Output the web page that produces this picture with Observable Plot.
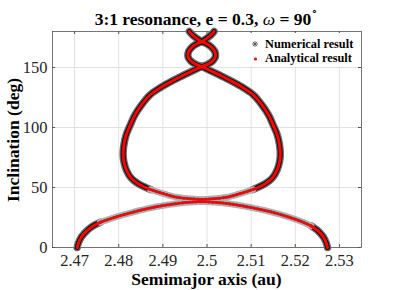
<!DOCTYPE html>
<html><head><meta charset="utf-8">
<script src="https://cdn.jsdelivr.net/npm/d3@7"></script>
<script src="https://cdn.jsdelivr.net/npm/@observablehq/plot@0.6"></script>
<style>
body{margin:0;background:#fff;}
#wrap{position:relative;width:399px;height:290px;font-family:"Liberation Serif","Times New Roman",serif;color:#000;}
#wrap svg{position:absolute;left:0;top:0;}
.abs{position:absolute;white-space:nowrap;line-height:1;}
#title{left:52px;width:309px;top:9px;text-align:center;font-weight:bold;font-size:17.5px;}
#title sup{font-size:11px;font-weight:normal;position:relative;top:-3px;}
#xlabel{left:52px;width:309px;top:271px;text-align:center;font-weight:bold;font-size:17.5px;}
#ylabel{left:14px;top:140px;transform:translate(-50%,-50%) rotate(-90deg);font-weight:bold;font-size:17.5px;}
#legend{left:247px;top:33px;width:113px;height:33px;background:#fff;}
.leg{font-weight:bold;font-size:12.3px;position:absolute;left:18px;}
</style></head>
<body>
<div id="wrap">
  <div id="chart"></div>
  <div id="title" class="abs">3:1 resonance, e = 0.3, <i style="font-weight:normal">ω</i> = 90<sup>∘</sup></div>
  <div id="xlabel" class="abs">Semimajor axis (au)</div>
  <div id="ylabel" class="abs">Inclination (deg)</div>
  <div id="legend" class="abs">
    <svg width="14" height="30" style="position:absolute;left:2px;top:4px;overflow:visible">
      <g stroke="#555" stroke-width="0.9" transform="translate(6,7)">
        <line x1="-3" y1="0" x2="3" y2="0"/><line x1="0" y1="-3" x2="0" y2="3"/>
        <line x1="-2.2" y1="-2.2" x2="2.2" y2="2.2"/><line x1="-2.2" y1="2.2" x2="2.2" y2="-2.2"/>
      </g>
      <circle cx="6.5" cy="22" r="1.6" fill="#ff0000"/>
    </svg>
    <span class="leg" style="top:5px">Numerical result</span>
    <span class="leg" style="top:19px">Analytical result</span>
  </div>
</div>
<script>
// axis ticks
const xTicks = [2.47, 2.48, 2.49, 2.5, 2.51, 2.52, 2.53];
const xTickLabels = ["2.47", "2.48", "2.49", "2.5", "2.51", "2.52", "2.53"];
const yTicks = [0, 50, 100, 150];
const yTickLabels = ["0", "50", "100", "150"];

// separatrix branches: semimajor axis (au) and inclination (deg)
// lower left branch (steep part, dense markers)
const lowLeftSteepA = [2.4706, 2.4709, 2.4716, 2.4728, 2.4742, 2.4758];
const lowLeftSteepI = [0, 4, 9, 14, 18, 21];
// lower left branch (flat part, sparse markers)
const lowLeftFlatA = [2.4758, 2.4790, 2.4830, 2.4870, 2.4910, 2.4950, 2.4988];
const lowLeftFlatI = [21, 25, 29.2, 32.8, 35.5, 37.4, 38.2];
// lower right branch
const lowRightSteepA = [2.5273, 2.5270, 2.5263, 2.5251, 2.5236];
const lowRightSteepI = [0, 4, 9, 14, 18];
const lowRightFlatA = [2.5236, 2.5215, 2.5188, 2.5152, 2.5112, 2.5070, 2.5030, 2.4988];
const lowRightFlatI = [18, 21.5, 25, 29, 32.4, 35.3, 37.3, 38.2];
// big lobe, bottom (sparse) parts
const lobeLeftBotA = [2.4988, 2.4962, 2.4930, 2.4900, 2.4872];
const lobeRightBotA = [2.4988, 2.5014, 2.5046, 2.5076, 2.5104];
const lobeBotI = [40, 40.6, 42, 45, 48.3];
// big lobe, main (dense) parts
const lobeLeftA = [2.4872, 2.4845, 2.4828, 2.4818, 2.4812, 2.4810, 2.4812, 2.4817, 2.4826, 2.4836, 2.4852, 2.4872, 2.4900, 2.4925, 2.4948, 2.4972, 2.4988];
const lobeRightA = [2.5104, 2.5131, 2.5148, 2.5158, 2.5164, 2.5166, 2.5164, 2.5159, 2.5150, 2.5140, 2.5124, 2.5104, 2.5076, 2.5051, 2.5028, 2.5004, 2.4988];
const lobeI = [48.3, 53, 58, 64, 71, 78, 86, 94, 102, 110, 119, 127.5, 134.5, 139.5, 143.8, 148, 150.8];
// small loop near the top
const loopLeftA = [2.4988, 2.4975, 2.4963, 2.4957, 2.4958, 2.4966, 2.4978, 2.4988];
const loopRightA = [2.4988, 2.5001, 2.5013, 2.5019, 2.5018, 2.5010, 2.4998, 2.4988];
const loopI = [150.8, 152.6, 155.5, 159, 163, 167, 170, 171.5];
// tails running to the top edge
const tailLeftA = [2.4988, 2.4976, 2.4966, 2.4960];
const tailRightA = [2.4988, 2.5000, 2.5010, 2.5016];
const tailI = [171.5, 174.5, 177.5, 180];

function rows(name, A, I) { return A.map((a, k) => ({curve: name, a, i: I[k]})); }
const dense = [
  ...rows("llS", lowLeftSteepA, lowLeftSteepI),
  ...rows("lrS", lowRightSteepA, lowRightSteepI),
  ...rows("lobeL", lobeLeftA, lobeI),
  ...rows("lobeR", lobeRightA, lobeI),
  ...rows("loopL", loopLeftA, loopI),
  ...rows("loopR", loopRightA, loopI),
  ...rows("tailL", tailLeftA, tailI),
  ...rows("tailR", tailRightA, tailI)
];
const sparse = [
  ...rows("llF", lowLeftFlatA, lowLeftFlatI),
  ...rows("lrF", lowRightFlatA, lowRightFlatI),
  ...rows("lbL", lobeLeftBotA, lobeBotI),
  ...rows("lbR", lobeRightBotA, lobeBotI)
];

const W = 399, H = 290, mL = 52, mR = 38, mT = 31, mB = 43;
const pH = H - mT - mB, pW = W - mL - mR;
const enc = {x: "a", y: "i", z: "curve", curve: "catmull-rom"};

const chart = Plot.plot({
  width: W, height: H,
  marginLeft: mL, marginRight: mR, marginTop: mT, marginBottom: mB,
  style: {fontFamily: "'Liberation Serif','Times New Roman',serif", background: "transparent", overflow: "visible"},
  x: {domain: [2.465, 2.535]},
  y: {domain: [0, 180]},
  marks: [
    Plot.gridX(xTicks, {stroke: "#e2e2e2", strokeOpacity: 1, strokeWidth: 1}),
    Plot.gridY(yTicks, {stroke: "#e2e2e2", strokeOpacity: 1, strokeWidth: 1}),
    // inward ticks on all four sides
    Plot.ruleX(xTicks, {stroke: "#555", insetTop: pH - 3}),
    Plot.ruleX(xTicks, {stroke: "#555", insetBottom: pH - 3}),
    Plot.ruleY(yTicks, {stroke: "#555", insetLeft: pW - 3}),
    Plot.ruleY(yTicks, {stroke: "#555", insetRight: pW - 3}),
    Plot.frame({stroke: "#555", strokeWidth: 0.8}),
    Plot.axisX(xTicks, {tickSize: 0, tickPadding: 7, tickFormat: (d, k) => xTickLabels[k], fontSize: 16.5, fill: "#262626", label: null}),
    Plot.axisY(yTicks, {tickSize: 0, tickPadding: 5, tickFormat: (d, k) => yTickLabels[k], fontSize: 16.5, fill: "#262626", label: null}),
    // numerical result (asterisk markers, dense)
    Plot.line(dense, {...enc, stroke: "#6e6e6e", strokeWidth: 7.5, strokeDasharray: "1.3,0.9"}),
    Plot.line(dense, {...enc, stroke: "#111", strokeWidth: 5}),
    // numerical result (sparse)
    Plot.line(sparse, {...enc, stroke: "#b0b0b0", strokeWidth: 6.5, strokeDasharray: "1,1"}),
    Plot.line(sparse, {...enc, stroke: "#555", strokeWidth: 3, strokeDasharray: "1,2.5"}),
    // analytical result (red dots)
    Plot.line(dense, {...enc, stroke: "#ff0000", strokeWidth: 3}),
    Plot.line(sparse, {...enc, stroke: "#ff0000", strokeWidth: 2.4, strokeDasharray: "2.2,2"})
  ]
});
document.getElementById("chart").appendChild(chart);
</script>
</body></html>
